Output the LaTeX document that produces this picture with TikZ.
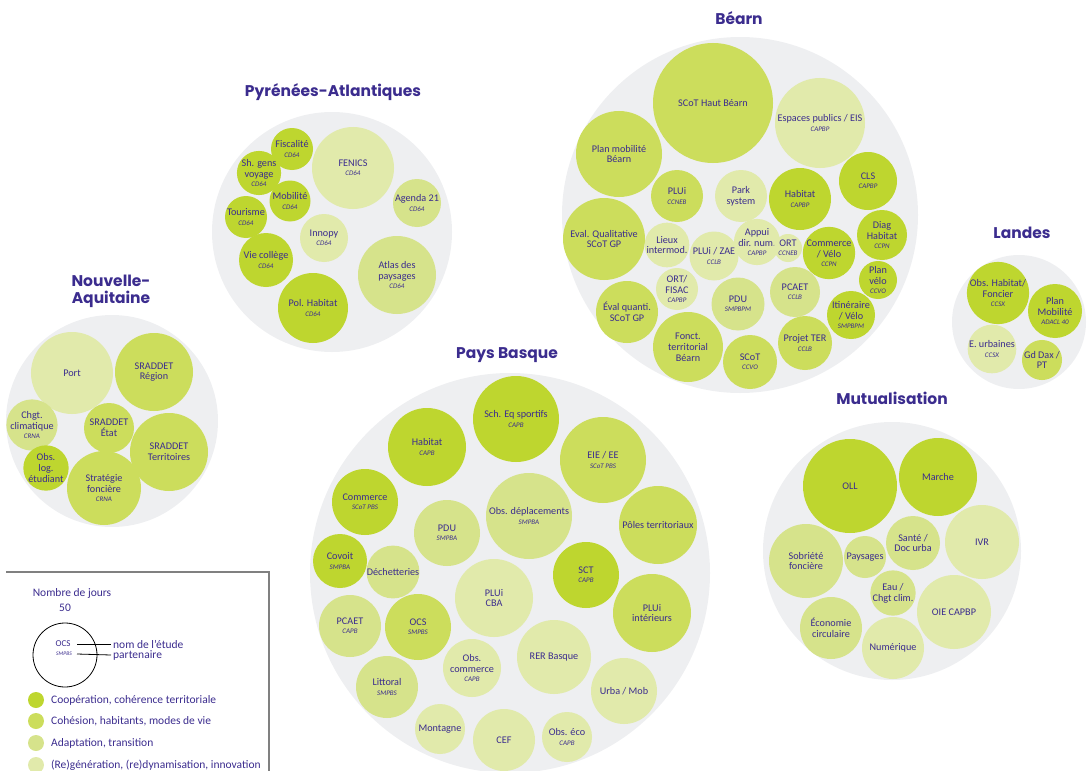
\documentclass[tikz,border=0pt]{standalone}
\usepackage{fontspec}
\setmainfont{Carlito}
\newfontfamily\titlefont{Poppins}
\definecolor{coop}{HTML}{BED62F}
\definecolor{coh}{HTML}{CCDD5C}
\definecolor{adap}{HTML}{D6E38B}
\definecolor{regen}{HTML}{E1EAAB}
\definecolor{bgc}{HTML}{EEEFF1}
\definecolor{txt}{HTML}{3B2C8E}
\definecolor{frame}{HTML}{808080}
\newcommand\ptn[1]{\\[-1.5bp]{\fontsize{7bp}{7.5bp}\selectfont\itshape #1}}
\newcommand\bub[6]{\node[bubble, fill=#5, minimum size={2*#4 bp}] (#1) at (#2,#3) {#6};}
\newcommand\grp[4]{\node[groupbg, minimum size={2*#4 bp}] (#1) at (#2,#3) {};}
\tikzset{
  bubble/.style={circle, inner sep=0pt, align=center, text=txt,
    font=\fontsize{10.2bp}{10.8bp}\selectfont},
  groupbg/.style={circle, inner sep=0pt, fill=bgc},
  grouptitle/.style={text=txt, align=center, font=\titlefont\bfseries\fontsize{15.5bp}{17bp}\selectfont},
  legtext/.style={text=txt, font=\fontsize{11.5bp}{13bp}\selectfont},
  legdot/.style={circle, inner sep=0pt, minimum size=16bp},
}
\begin{document}
\begin{tikzpicture}[x=1bp, y=-1bp]
\useasboundingbox (0,0) rectangle (1090,771);
% group backgrounds
\grp{gPA}{332}{232}{120}
\grp{gNA}{112}{421}{106}
\grp{gBE}{740}{215}{178}
\grp{gLA}{1019}{322}{67}
\grp{gPB}{510}{573}{200}
\grp{gMU}{892}{551}{129}
% titles
\node[grouptitle] (tPA) at (333,92) {Pyrénées-Atlantiques};
\node[grouptitle] (tNA) at (111,291) {Nouvelle-\\Aquitaine};
\node[grouptitle] (tBE) at (739,18) {Béarn};
\node[grouptitle] (tLA) at (1022,233) {Landes};
\node[grouptitle] (tPB) at (507,355) {Pays Basque};
\node[grouptitle] (tMU) at (892,398) {Mutualisation};
% Pyrenees-Atlantiques
\bub{fisc}{292}{149}{21}{coop}{Fiscalité\ptn{CD64}}
\bub{fenics}{353}{168}{41}{regen}{FENICS\ptn{CD64}}
\bub{shgv}{259}{173}{16}{coop}{Sh. gens\\voyage\ptn{CD64}}
\bub{mobPA}{290}{201}{20.5}{coop}{Mobilité\ptn{CD64}}
\bub{ag21}{417}{203}{24}{adap}{Agenda 21\ptn{CD64}}
\bub{tour}{246}{217}{21}{coop}{Tourisme\ptn{CD64}}
\bub{innopy}{324}{238}{24}{regen}{Innopy\ptn{CD64}}
\bub{viecol}{266}{260}{27}{coop}{Vie collège\ptn{CD64}}
\bub{atlas}{397}{275}{39}{adap}{Atlas des\\paysages\ptn{CD64}}
\bub{polhab}{313}{308}{35}{coop}{Pol. Habitat\ptn{CD64}}
% Nouvelle-Aquitaine
\bub{port}{72}{373}{41}{regen}{Port}
\bub{sradreg}{154}{372}{39}{coh}{SRADDET\\Région}
\bub{chgt}{32}{425}{20}{adap}{Chgt.\\climatique\ptn{CRNA}}
\bub{sradetat}{109}{428}{25}{coh}{SRADDET\\État}
\bub{sradterr}{169}{452}{39}{coh}{SRADDET\\Territoires}
\bub{obslog}{46}{468}{20}{coop}{Obs.\\log.\\étudiant}
\bub{strat}{104}{488}{37}{coh}{Stratégie\\foncière\ptn{CRNA}}
% Bearn
\bub{scothb}{713}{103}{60}{coh}{SCoT Haut Béarn}
\bub{planmob}{619}{154}{43}{coh}{Plan mobilité\\Béarn}
\bub{esppub}{820}{123}{45}{regen}{Espaces publics / EIS\ptn{CAPBP}}
\bub{pluiccneb}{677}{196}{26}{coh}{PLUi\ptn{CCNEB}}
\bub{park}{741}{196}{26}{regen}{Park\\system}
\bub{habbearn}{800}{199}{31}{coop}{Habitat\ptn{CAPBP}}
\bub{cls}{868}{181}{29}{coop}{CLS\ptn{CAPBP}}
\bub{evalq}{604}{239}{41}{coh}{Eval. Qualitative\\SCoT GP}
\bub{lieux}{667}{245}{20}{regen}{Lieux\\intermod.}
\bub{pluizae}{714}{256}{24.5}{regen}{PLUi / ZAE\ptn{CCLB}}
\bub{appui}{757}{242}{17}{regen}{Appui\\dir. num.\ptn{CAPBP}}
\bub{ort}{788}{248}{14}{regen}{ORT\ptn{CCNEB}}
\bub{comvelo}{829}{253}{25}{coop}{Commerce\\/ Vélo\ptn{CCPN}}
\bub{diag}{882}{235}{25}{coop}{Diag\\Habitat\ptn{CCPN}}
\bub{planvelo}{878}{280}{19}{coop}{Plan\\vélo\ptn{CCVO}}
\bub{ortfisac}{677}{289}{21}{regen}{ORT/\\FISAC\ptn{CAPBP}}
\bub{pcaetb}{795}{292}{25}{adap}{PCAET\ptn{CCLB}}
\bub{evalquanti}{627}{312}{31}{coh}{Éval quanti.\\SCoT GP}
\bub{pdub}{738}{304}{26.5}{adap}{PDU\ptn{SMPBPM}}
\bub{itin}{851}{315}{24}{coop}{Itinéraire\\/ Vélo\ptn{SMPBPM}}
\bub{fonct}{688}{347}{35}{coh}{Fonct.\\territorial\\Béarn}
\bub{scotccvo}{750}{362}{27}{coh}{SCoT\ptn{CCVO}}
\bub{ter}{805}{343}{27}{coh}{Projet TER\ptn{CCLB}}
% Landes
\bub{obshab}{998}{293}{28}{coop}{Obs. Habitat/\\Foncier\ptn{CCSX}}
\bub{planmobl}{1055}{311}{27}{coop}{Plan\\Mobilité\ptn{ADACL 40}}
\bub{eurb}{992}{349}{24}{regen}{E. urbaines\ptn{CCSX}}
\bub{gddax}{1042}{360}{20}{coh}{Gd Dax /\\PT}
% Pays Basque
\bub{scheq}{516}{419}{43}{coop}{Sch. Eq sportifs\ptn{CAPB}}
\bub{habpb}{427}{447}{39}{coop}{Habitat\ptn{CAPB}}
\bub{eie}{603}{460}{43}{coh}{EIE / EE\ptn{SCoT PBS}}
\bub{compb}{365}{502}{33}{coop}{Commerce\ptn{SCoT PBS}}
\bub{obsdep}{529}{516}{43}{adap}{Obs. déplacements\ptn{SMPBA}}
\bub{poles}{658}{525}{39}{coh}{Pôles territoriaux}
\bub{pdupb}{447}{533}{33}{adap}{PDU\ptn{SMPBA}}
\bub{covoit}{340}{561}{27}{coop}{Covoit\ptn{SMPBA}}
\bub{dech}{393}{572}{20.5}{adap}{Déchetteries}
\bub{pluicba}{494}{598}{39}{regen}{PLUi\\CBA}
\bub{sct}{586}{575}{33}{coop}{SCT\ptn{CAPB}}
\bub{pluiint}{652}{613}{39}{coh}{PLUi\\intérieurs}
\bub{pcaetpb}{350}{626}{31}{adap}{PCAET\ptn{CAPB}}
\bub{ocs}{418}{627}{33}{coh}{OCS\ptn{SMPBS}}
\bub{obscom}{472}{668}{29}{regen}{Obs.\\commerce\ptn{CAPB}}
\bub{rer}{554}{657}{37}{regen}{RER Basque}
\bub{littoral}{387}{687}{31}{adap}{Littoral\ptn{SMPBS}}
\bub{urba}{624}{691}{33}{regen}{Urba / Mob}
\bub{montagne}{440}{729}{25}{regen}{Montagne}
\bub{cef}{504}{740}{31}{regen}{CEF}
\bub{obseco}{567}{737}{25}{regen}{Obs. éco\ptn{CAPB}}
% Mutualisation
\bub{oll}{850}{486}{47}{coop}{OLL}
\bub{marche}{938}{477}{39}{coop}{Marche}
\bub{ivr}{982}{542}{37}{regen}{IVR}
\bub{sobr}{806}{561}{37}{adap}{Sobriété\\foncière}
\bub{pays}{865}{557}{21}{adap}{Paysages}
\bub{sante}{913}{543}{27}{adap}{Santé /\\Doc urba}
\bub{eau}{893}{593}{20.5}{adap}{Eau /\\Chgt clim.}
\bub{oie}{954}{612}{37}{regen}{OIE CAPBP}
\bub{eco}{831}{628}{31}{adap}{Économie\\circulaire}
\bub{num}{893}{648}{31}{regen}{Numérique}
% Legend
\coordinate (fA) at (6,572);
\coordinate (fB) at (269,572);
\coordinate (fC) at (269,771);
\draw[frame, line width=1.2bp] (fA) -- (fB) -- (fC);
\node[legtext] (lgtitle) at (72,593) {Nombre de jours};
\node[legtext] (lg50) at (65,608) {50};
\node[circle, draw=black, fill=white, line width=0.8bp, minimum size=64bp, inner sep=0pt] (lgc) at (65,655) {};
\node[text=txt, font=\fontsize{9bp}{9bp}\selectfont] (lgocs) at (63,644) {OCS};
\node[text=txt, font=\fontsize{5.5bp}{6bp}\selectfont\itshape] (lgsmp) at (64,654) {SMPBS};
\node[legtext, anchor=west, inner sep=0pt] (lgnom) at (113,644) {nom de l’étude};
\node[legtext, anchor=west, inner sep=0pt] (lgpart) at (113,655) {partenaire};
\coordinate (k1) at (77,644);
\coordinate (k2) at (77,654);
\draw[black, line width=0.8bp] (k1) -- ([xshift=-2bp]lgnom.west);
\draw[black, line width=0.8bp] (k2) -- ([xshift=-2bp]lgpart.west);
\node[legdot, fill=coop] (d1) at (36,700) {};
\node[legdot, fill=coh] (d2) at (36,721) {};
\node[legdot, fill=adap] (d3) at (36,743) {};
\node[legdot, fill=regen] (d4) at (36,765) {};
\node[legtext, anchor=west, inner sep=0pt] (l1) at (51,700) {Coopération, cohérence territoriale};
\node[legtext, anchor=west, inner sep=0pt] (l2) at (51,721) {Cohésion, habitants, modes de vie};
\node[legtext, anchor=west, inner sep=0pt] (l3) at (51,743) {Adaptation, transition};
\node[legtext, anchor=west, inner sep=0pt] (l4) at (51,765) {(Re)génération, (re)dynamisation, innovation};
\end{tikzpicture}
\end{document}
